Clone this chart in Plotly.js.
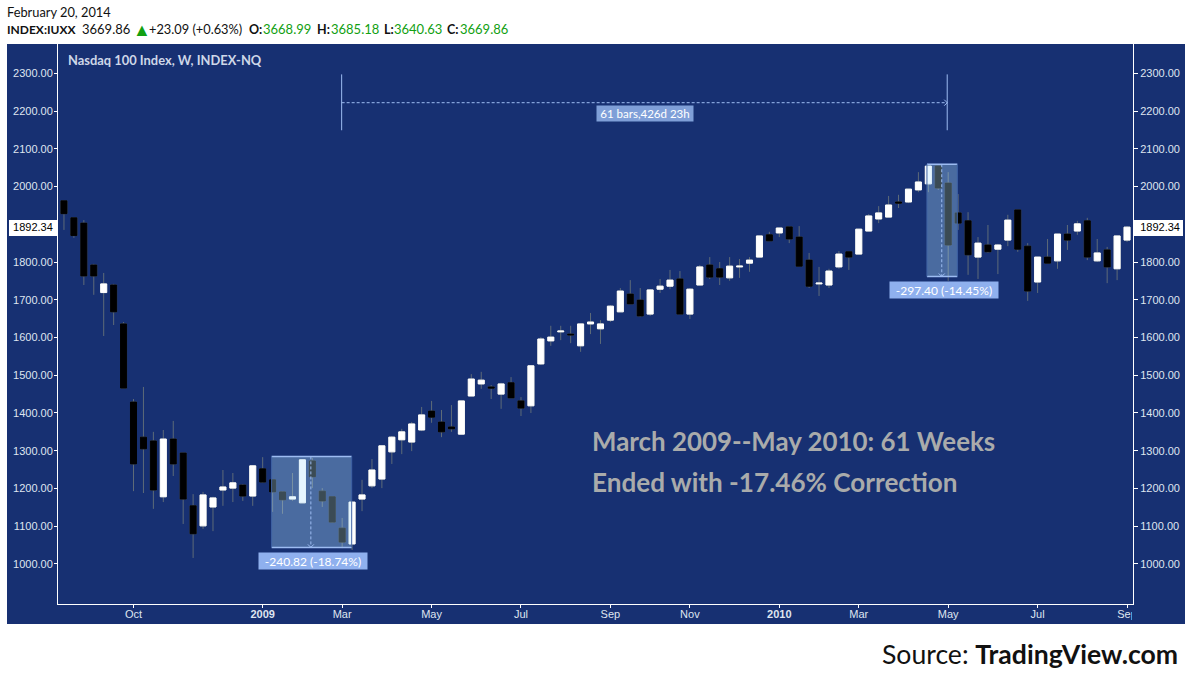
<!DOCTYPE html>
<html><head><meta charset="utf-8">
<script src="https://cdn.plot.ly/plotly-3.0.1.min.js"></script>
<style>html,body{margin:0;padding:0;background:#fff}</style></head>
<body><div id="chart" style="width:1192px;height:681px"></div>
<script>
const open_ = [1962,1917,1903,1792,1719,1739,1636,1429,1336,1326,1178,1331,1294,1154,1101,1151,1196,1201,1209,1180,1252,1223,1191,1172,1162,1273,1193,1178,1095,1053,1172,1207,1225,1297,1329,1323,1355,1405,1376,1363,1344,1445,1477,1469,1450,1480,1432,1419,1530,1591,1615,1609,1578,1636,1623,1646,1668,1715,1699,1662,1728,1736,1755,1662,1739,1792,1782,1758,1787,1797,1813,1872,1877,1893,1866,1805,1742,1739,1787,1827,1821,1882,1914,1919,1959,1959,1991,2007,2054,2009,1930,1909,1813,1845,1834,1858,1938,1842,1747,1813,1803,1874,1882,1909,1803,1832,1782,1858];
const high = [1962,1919,1911,1795,1771,1742,1641,1437,1469,1350,1355,1379,1294,1185,1191,1178,1249,1241,1212,1262,1283,1223,1193,1241,1278,1281,1201,1180,1122,1167,1223,1278,1313,1339,1358,1376,1416,1432,1408,1421,1432,1503,1509,1474,1480,1495,1442,1525,1601,1631,1631,1631,1636,1665,1646,1686,1731,1752,1731,1728,1755,1779,1776,1731,1792,1813,1800,1813,1808,1813,1869,1880,1890,1895,1895,1824,1787,1782,1829,1827,1887,1927,1948,1975,1978,1993,2038,2054,2054,2038,1980,1932,1866,1898,1848,1925,1938,1850,1813,1861,1874,1898,1909,1917,1861,1840,1869,1895];
const low = [1885,1864,1739,1713,1604,1633,1466,1193,1188,1146,1164,1233,1106,1016,1093,1087,1154,1164,1167,1154,1215,1138,1133,1167,1162,1201,1151,1109,1042,1037,1140,1201,1201,1265,1291,1299,1352,1374,1336,1350,1344,1445,1464,1437,1411,1440,1392,1400,1527,1578,1593,1585,1562,1609,1583,1641,1668,1689,1654,1657,1718,1728,1662,1649,1739,1755,1739,1750,1758,1774,1813,1856,1866,1850,1789,1731,1710,1731,1782,1779,1821,1882,1903,1919,1943,1956,1985,1985,1991,1750,1885,1766,1755,1824,1768,1842,1827,1697,1718,1797,1782,1832,1872,1805,1800,1744,1752,1853];
const close_ = [1928,1870,1763,1763,1742,1668,1466,1265,1305,1196,1331,1265,1172,1080,1183,1175,1204,1215,1180,1260,1217,1191,1170,1178,1276,1231,1167,1111,1058,1164,1183,1249,1313,1336,1350,1371,1395,1389,1350,1358,1432,1490,1487,1466,1477,1440,1413,1525,1596,1601,1617,1607,1636,1641,1636,1683,1723,1689,1657,1726,1736,1752,1662,1728,1787,1760,1760,1789,1789,1805,1869,1856,1890,1861,1789,1736,1744,1776,1821,1813,1887,1922,1930,1951,1956,1993,2012,2054,1996,1845,1903,1819,1850,1827,1845,1911,1834,1723,1813,1797,1874,1858,1901,1813,1824,1787,1869,1892.34];
const priceTicks = [1000,1100,1200,1300,1400,1500,1600,1700,1800,1892.34,2000,2100,2200,2300];
const priceLabels = ['1000.00','1100.00','1200.00','1300.00','1400.00','1500.00','1600.00','1700.00','1800.00','<span style="color:#000">1892.34</span>','2000.00','2100.00','2200.00','2300.00'];
const monthTicks = [7,20,28,37,46,55,63,72,80,89,98,107];
const monthLabels = ['Oct','<b>2009</b>','Mar','May','Jul','Sep','Nov','<b>2010</b>','Mar','May','Jul','Sep'];
const priceRange = [894,2377.5];
const barRange = [-0.6,107.6];
const weeks = open_.map((_,i)=>i);
const fallA = {x0:20.9,x1:28.96,top:1285,bottom:1044,mid:24.85,label:'-240.82 (-18.74%)'};
const fallB = {x0:86.86,x1:89.92,top:2059,bottom:1761.6,mid:88.35,label:'-297.40 (-14.45%)'};
const span = {x0:27.95,x1:88.9,top:2297,bottom:2149,mid:2222,label:'61 bars,426d 23h'};

const BLUE='#173072', WICK='#5e6b78', LINE='#9dbcf2', SANS='Lato, sans-serif', AX='"Liberation Sans", Arial, sans-serif', GREEN='#12a012';
const W=1075,H=560,L=58,T=44;
const px=x=>(x-L)/W, py=y=>1-(y-T)/H;

const traces=[
 {type:'candlestick',x:weeks,open:open_,high:high,low:low,close:close_,whiskerwidth:0,
  increasing:{line:{color:WICK,width:1},fillcolor:'rgba(0,0,0,0)'},decreasing:{line:{color:WICK,width:1},fillcolor:'rgba(0,0,0,0)'},hoverinfo:'skip'},
 {type:'candlestick',x:weeks,open:open_,close:close_,yaxis:'y2',
  high:open_.map((o,i)=>Math.max(o,close_[i])),low:open_.map((o,i)=>Math.min(o,close_[i])),whiskerwidth:0,
  increasing:{line:{color:'#fff',width:1},fillcolor:'#fff'},decreasing:{line:{color:'#000',width:1},fillcolor:'#000'},hoverinfo:'skip'}
];

const shapes=[
 {type:'rect',xref:'paper',yref:'paper',x0:px(7),x1:px(1185),y0:py(44),y1:py(624),fillcolor:BLUE,line:{width:0},layer:'below'},
 {type:'rect',xref:'paper',yref:'paper',x0:px(9),x1:px(58),y0:py(220),y1:py(236),fillcolor:'#fff',line:{width:0},layer:'below'},
 {type:'rect',xref:'paper',yref:'paper',x0:px(1133),x1:px(1183),y0:py(220),y1:py(236),fillcolor:'#fff',line:{width:0},layer:'below'},
 {type:'rect',xref:'paper',yref:'paper',x0:px(1132),x1:px(1140),y0:py(608.5),y1:py(623),fillcolor:BLUE,line:{width:0},layer:'above'}
];
function vHead(xv,yv){[-3,3].forEach(d=>shapes.push({type:'line',xref:'x',yref:'y',xsizemode:'pixel',ysizemode:'pixel',xanchor:xv,yanchor:yv,x0:d,x1:0,y0:3,y1:0,line:{color:LINE,width:1}}));}
function hHead(xv,yv){[-3,3].forEach(d=>shapes.push({type:'line',xref:'x',yref:'y',xsizemode:'pixel',ysizemode:'pixel',xanchor:xv,yanchor:yv,x0:-3,x1:0,y0:d,y1:0,line:{color:LINE,width:1}}));}
[fallA,fallB].forEach(f=>{
 shapes.push({type:'rect',xref:'x',yref:'y',x0:f.x0,x1:f.x1,y0:f.bottom,y1:f.top,fillcolor:'rgba(180,228,255,0.33)',line:{width:0}});
 [f.top,f.bottom].forEach(v=>shapes.push({type:'line',xref:'x',yref:'y',x0:f.x0,x1:f.x1,y0:v,y1:v,line:{color:LINE,width:1.5}}));
 [f.x0,f.x1].forEach(v=>shapes.push({type:'line',xref:'x',yref:'y',x0:v,x1:v,y0:f.bottom,y1:f.top,line:{color:'#3f62a5',width:1}}));
 shapes.push({type:'line',xref:'x',yref:'y',x0:f.mid,x1:f.mid,y0:f.top,y1:f.bottom,line:{color:LINE,width:1,dash:'3px,2px'}});
 vHead(f.mid,f.bottom);
});
[span.x0,span.x1].forEach(v=>shapes.push({type:'line',xref:'x',yref:'y',x0:v,x1:v,y0:span.bottom,y1:span.top,line:{color:LINE,width:1}}));
shapes.push({type:'line',xref:'x',yref:'y',x0:span.x0,x1:span.x1,y0:span.mid,y1:span.mid,line:{color:LINE,width:1,dash:'3px,2px'}});
hHead(span.x1,span.mid);

function t(text,x,y,size,color,opt){return Object.assign({xref:'paper',yref:'paper',x:px(x-2),y:py(y),xanchor:'left',yanchor:'middle',showarrow:false,text,font:{family:SANS,size,color}},opt||{});}
const annotations=[
 t('February 20, 2014',7,12,12.8,'#111'),
 t('<b>INDEX:IUXX</b>',7,29.5,12,'#111'),
 t('3669.86',82,29.5,13,'#111'),
 t('▲',133,29,18,GREEN),
 t('+23.09 (+0.63%)',149,29.5,12.8,'#111'),
 t('<b>O:</b>',249,29.5,12.5,'#111'),t('3668.99',263,29.5,13,GREEN),
 t('<b>H:</b>',317,29.5,12.5,'#111'),t('3685.18',331,29.5,13,GREEN),
 t('<b>L:</b>',384,29.5,12.5,'#111'),t('3640.63',394,29.5,13,GREEN),
 t('<b>C:</b>',447,29.5,12.5,'#111'),t('3669.86',460,29.5,13,GREEN),
 t('<b>Nasdaq 100 Index, W, INDEX-NQ</b>',68,60,12.9,'#ced7e8'),
 t('<b>March 2009--May 2010: 61 Weeks</b>',592,441,25.9,'#a9abab'),
 t('<b>Ended with -17.46% Correction</b>',592,482,26.1,'#a9abab'),
 t('Source: <b>TradingView.com</b>',882,654,26.6,'#111'),
 t(fallA.label,260,561,12,'#fff',{bgcolor:'#8fb0ee',width:108,height:16,align:'center',borderpad:0}),
 t(fallB.label,891,290,12,'#fff',{bgcolor:'#8fb0ee',width:108,height:16,align:'center',borderpad:0}),
 t(span.label,598,113.5,11.5,'#fff',{bgcolor:'#7f9fd8',width:96,height:15,align:'center',borderpad:0})
];
const yax={range:priceRange,tickmode:'array',tickvals:priceTicks,ticktext:priceLabels,ticks:'outside',tickcolor:'#fff',tickwidth:1,
 showline:true,linecolor:'#fff',linewidth:1,showgrid:false,zeroline:false,tickfont:{family:AX,size:11,color:'#dfe5f0'}};
const layout={width:1192,height:681,margin:{l:58,r:59,t:44,b:77,pad:0},paper_bgcolor:'#fff',plot_bgcolor:'rgba(0,0,0,0)',
 showlegend:false,hovermode:false,boxgap:0.13,
 xaxis:{range:barRange,type:'linear',rangeslider:{visible:false},tickmode:'array',tickvals:monthTicks,ticktext:monthLabels,ticks:'outside',ticklen:3,tickcolor:'#fff',tickwidth:1,ticklabelstandoff:-3,
  showline:true,linecolor:'#fff',linewidth:1,showgrid:false,zeroline:false,tickfont:{family:AX,size:11,color:'#dfe5f0'}},
 yaxis:Object.assign({side:'left',ticklen:3,ticklabelstandoff:-1},yax),
 yaxis2:Object.assign({side:'right',overlaying:'y',anchor:'x',ticklen:4},yax),
 shapes,annotations};
Plotly.newPlot('chart',traces,layout,{displayModeBar:false,staticPlot:true});
</script></body></html>
